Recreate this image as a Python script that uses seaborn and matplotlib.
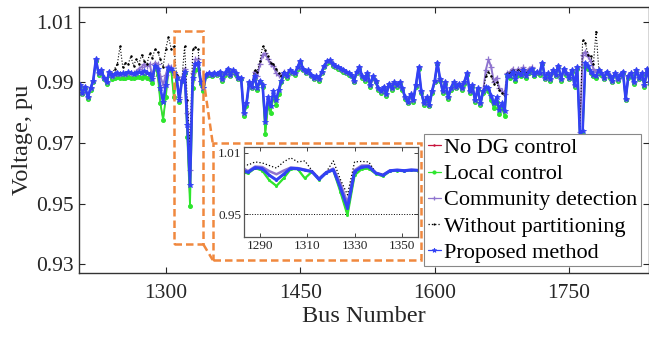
import numpy as np
import pandas as pd
import matplotlib
matplotlib.use("Agg")
import matplotlib.pyplot as plt
import seaborn as sns
from matplotlib.patches import Rectangle
from matplotlib.lines import Line2D

# ---------------- data ----------------
bus_numbers = np.arange(1204, 1841, 3)   # 213 buses shown

proposed_method = [
    0.9890, 0.9865, 0.9885, 0.9850, 0.9880, 0.9905, 0.9975, 0.9930, 0.9940, 0.9915,
    0.9900, 0.9935, 0.9920, 0.9928, 0.9932, 0.9926, 0.9930, 0.9927, 0.9933, 0.9930,
    0.9928, 0.9931, 0.9934, 0.9929, 0.9936, 0.9930, 0.9926, 0.9910, 0.9955, 0.9945,
    0.9880, 0.9834, 0.9890, 0.9948, 0.9945, 0.9930, 0.9915, 0.9840, 0.9905, 0.9935,
    0.9760, 0.9560, 0.9915, 0.9960, 0.9965, 0.9900, 0.9880, 0.9925, 0.9930, 0.9925,
    0.9932, 0.9928, 0.9935, 0.9910, 0.9930, 0.9945, 0.9925, 0.9940, 0.9930, 0.9915,
    0.9915, 0.9800, 0.9830, 0.9900, 0.9885, 0.9920, 0.9880, 0.9905, 0.9890, 0.9770,
    0.9850, 0.9820, 0.9870, 0.9840, 0.9875, 0.9905, 0.9930, 0.9920, 0.9940, 0.9935,
    0.9930, 0.9950, 0.9970, 0.9945, 0.9935, 0.9940, 0.9925, 0.9915, 0.9920, 0.9910,
    0.9935, 0.9955, 0.9970, 0.9972, 0.9960, 0.9955, 0.9950, 0.9945, 0.9940, 0.9935,
    0.9930, 0.9925, 0.9905, 0.9935, 0.9950, 0.9920, 0.9910, 0.9930, 0.9890, 0.9920,
    0.9905, 0.9880, 0.9870, 0.9885, 0.9860, 0.9895, 0.9880, 0.9900, 0.9890, 0.9900,
    0.9880, 0.9850, 0.9835, 0.9860, 0.9840, 0.9890, 0.9950, 0.9870, 0.9830, 0.9850,
    0.9825, 0.9870, 0.9905, 0.9965, 0.9910, 0.9870, 0.9900, 0.9850, 0.9880, 0.9900,
    0.9885, 0.9895, 0.9880, 0.9900, 0.9930, 0.9870, 0.9890, 0.9840, 0.9880, 0.9830,
    0.9870, 0.9885, 0.9880, 0.9855, 0.9830, 0.9850, 0.9810, 0.9830, 0.9805, 0.9925,
    0.9920, 0.9935, 0.9910, 0.9930, 0.9925, 0.9940, 0.9920, 0.9935, 0.9945, 0.9925,
    0.9935, 0.9930, 0.9965, 0.9915, 0.9930, 0.9910, 0.9940, 0.9925, 0.9955, 0.9910,
    0.9945, 0.9930, 0.9915, 0.9940, 0.9890, 0.9950, 0.9725, 0.9740, 0.9965, 0.9955,
    0.9935, 0.9925, 0.9920, 0.9940, 0.9930, 0.9915, 0.9935, 0.9920, 0.9905, 0.9930,
    0.9910, 0.9925, 0.9935, 0.9845, 0.9920, 0.9930, 0.9900, 0.9940, 0.9915, 0.9930,
    0.9890, 0.9945, 0.9900,
]

local_control = [
    0.9885, 0.9860, 0.9880, 0.9845, 0.9875, 0.9900, 0.9970, 0.9925, 0.9935, 0.9910,
    0.9895, 0.9925, 0.9912, 0.9915, 0.9918, 0.9913, 0.9915, 0.9914, 0.9918, 0.9915,
    0.9914, 0.9916, 0.9918, 0.9914, 0.9920, 0.9915, 0.9912, 0.9898, 0.9950, 0.9925,
    0.9830, 0.9776, 0.9850, 0.9940, 0.9940, 0.9850, 0.9915, 0.9835, 0.9905, 0.9930,
    0.9720, 0.9493, 0.9880, 0.9940, 0.9945, 0.9895, 0.9870, 0.9920, 0.9925, 0.9920,
    0.9927, 0.9923, 0.9930, 0.9905, 0.9925, 0.9940, 0.9920, 0.9935, 0.9925, 0.9910,
    0.9910, 0.9790, 0.9820, 0.9895, 0.9880, 0.9915, 0.9875, 0.9900, 0.9885, 0.9730,
    0.9820, 0.9800, 0.9850, 0.9825, 0.9860, 0.9900, 0.9925, 0.9915, 0.9935, 0.9930,
    0.9925, 0.9945, 0.9965, 0.9940, 0.9930, 0.9935, 0.9920, 0.9910, 0.9915, 0.9905,
    0.9930, 0.9950, 0.9965, 0.9967, 0.9955, 0.9950, 0.9945, 0.9940, 0.9935, 0.9930,
    0.9925, 0.9920, 0.9900, 0.9930, 0.9945, 0.9915, 0.9905, 0.9925, 0.9885, 0.9915,
    0.9900, 0.9875, 0.9865, 0.9880, 0.9855, 0.9890, 0.9875, 0.9895, 0.9885, 0.9895,
    0.9875, 0.9845, 0.9830, 0.9855, 0.9835, 0.9885, 0.9945, 0.9865, 0.9825, 0.9845,
    0.9820, 0.9865, 0.9900, 0.9960, 0.9905, 0.9865, 0.9895, 0.9845, 0.9875, 0.9895,
    0.9880, 0.9890, 0.9875, 0.9895, 0.9925, 0.9865, 0.9885, 0.9835, 0.9875, 0.9825,
    0.9865, 0.9880, 0.9870, 0.9840, 0.9815, 0.9835, 0.9795, 0.9815, 0.9790, 0.9920,
    0.9915, 0.9930, 0.9905, 0.9925, 0.9920, 0.9935, 0.9915, 0.9930, 0.9940, 0.9920,
    0.9930, 0.9925, 0.9960, 0.9910, 0.9925, 0.9905, 0.9935, 0.9920, 0.9950, 0.9905,
    0.9940, 0.9925, 0.9910, 0.9935, 0.9885, 0.9945, 0.9715, 0.9725, 0.9950, 0.9945,
    0.9930, 0.9920, 0.9915, 0.9935, 0.9925, 0.9910, 0.9930, 0.9915, 0.9900, 0.9925,
    0.9905, 0.9920, 0.9930, 0.9840, 0.9915, 0.9925, 0.9895, 0.9935, 0.9910, 0.9925,
    0.9885, 0.9940, 0.9895,
]

# the "No DG control" curve lies under the local-control curve
no_dg_control = list(local_control)

community_detection = [
    0.9890, 0.9865, 0.9885, 0.9850, 0.9880, 0.9905, 0.9975, 0.9930, 0.9940, 0.9915,
    0.9900, 0.9935, 0.9920, 0.9928, 0.9932, 0.9926, 0.9930, 0.9927, 0.9933, 0.9930,
    0.9930, 0.9935, 0.9945, 0.9950, 0.9960, 0.9955, 0.9960, 0.9920, 0.9965, 0.9960,
    0.9920, 0.9890, 0.9925, 0.9955, 0.9950, 0.9935, 0.9920, 0.9850, 0.9910, 0.9945,
    0.9800, 0.9610, 0.9930, 0.9975, 0.9975, 0.9905, 0.9885, 0.9927, 0.9932, 0.9927,
    0.9932, 0.9928, 0.9935, 0.9910, 0.9930, 0.9945, 0.9925, 0.9940, 0.9930, 0.9915,
    0.9915, 0.9800, 0.9830, 0.9900, 0.9885, 0.9935, 0.9920, 0.9960, 0.9990, 0.9995,
    0.9975, 0.9960, 0.9955, 0.9930, 0.9925, 0.9920, 0.9935, 0.9920, 0.9940, 0.9935,
    0.9930, 0.9950, 0.9970, 0.9945, 0.9935, 0.9940, 0.9925, 0.9915, 0.9920, 0.9910,
    0.9935, 0.9955, 0.9970, 0.9972, 0.9960, 0.9955, 0.9950, 0.9945, 0.9940, 0.9935,
    0.9930, 0.9925, 0.9905, 0.9935, 0.9950, 0.9920, 0.9910, 0.9930, 0.9890, 0.9920,
    0.9905, 0.9880, 0.9870, 0.9885, 0.9860, 0.9895, 0.9880, 0.9900, 0.9890, 0.9900,
    0.9880, 0.9850, 0.9835, 0.9860, 0.9840, 0.9890, 0.9950, 0.9870, 0.9830, 0.9850,
    0.9825, 0.9870, 0.9905, 0.9965, 0.9910, 0.9870, 0.9900, 0.9850, 0.9880, 0.9900,
    0.9885, 0.9895, 0.9880, 0.9900, 0.9930, 0.9870, 0.9890, 0.9840, 0.9880, 0.9830,
    0.9870, 0.9940, 0.9975, 0.9950, 0.9900, 0.9915, 0.9880, 0.9870, 0.9860, 0.9930,
    0.9935, 0.9945, 0.9930, 0.9945, 0.9940, 0.9950, 0.9935, 0.9945, 0.9950, 0.9930,
    0.9935, 0.9930, 0.9965, 0.9915, 0.9930, 0.9910, 0.9940, 0.9925, 0.9955, 0.9910,
    0.9945, 0.9930, 0.9915, 0.9940, 0.9890, 0.9950, 0.9735, 0.9990, 1.0000, 0.9985,
    0.9970, 0.9945, 0.9935, 0.9940, 0.9930, 0.9915, 0.9935, 0.9920, 0.9905, 0.9930,
    0.9910, 0.9925, 0.9935, 0.9845, 0.9920, 0.9930, 0.9900, 0.9940, 0.9915, 0.9930,
    0.9890, 0.9945, 0.9900,
]

without_partitioning = [
    0.9890, 0.9865, 0.9885, 0.9850, 0.9880, 0.9905, 0.9975, 0.9930, 0.9940, 0.9915,
    0.9900, 0.9935, 0.9925, 0.9945, 0.9960, 1.0020, 0.9950, 0.9965, 0.9960, 0.9985,
    0.9955, 0.9975, 0.9960, 0.9990, 0.9970, 0.9960, 0.9995, 0.9980, 1.0010, 1.0000,
    0.9975, 0.9950, 1.0010, 1.0050, 1.0010, 1.0020, 0.9925, 0.9850, 0.9910, 1.0020,
    0.9840, 0.9690, 1.0010, 1.0015, 1.0010, 0.9905, 0.9885, 0.9925, 0.9930, 0.9925,
    0.9932, 0.9928, 0.9935, 0.9910, 0.9930, 0.9945, 0.9925, 0.9940, 0.9930, 0.9915,
    0.9915, 0.9800, 0.9830, 0.9900, 0.9885, 0.9940, 0.9935, 0.9970, 1.0018, 1.0005,
    0.9985, 0.9965, 0.9960, 0.9945, 0.9930, 0.9920, 0.9935, 0.9920, 0.9940, 0.9935,
    0.9930, 0.9950, 0.9970, 0.9945, 0.9935, 0.9940, 0.9925, 0.9915, 0.9920, 0.9910,
    0.9935, 0.9955, 0.9970, 0.9972, 0.9960, 0.9955, 0.9950, 0.9945, 0.9940, 0.9935,
    0.9930, 0.9925, 0.9905, 0.9935, 0.9950, 0.9920, 0.9910, 0.9930, 0.9890, 0.9920,
    0.9905, 0.9880, 0.9870, 0.9885, 0.9860, 0.9895, 0.9880, 0.9900, 0.9890, 0.9900,
    0.9880, 0.9850, 0.9835, 0.9860, 0.9840, 0.9890, 0.9950, 0.9870, 0.9830, 0.9850,
    0.9825, 0.9870, 0.9905, 0.9965, 0.9910, 0.9870, 0.9900, 0.9850, 0.9880, 0.9900,
    0.9885, 0.9895, 0.9880, 0.9900, 0.9930, 0.9870, 0.9890, 0.9840, 0.9880, 0.9830,
    0.9870, 0.9920, 0.9935, 0.9920, 0.9895, 0.9900, 0.9875, 0.9865, 0.9855, 0.9930,
    0.9930, 0.9940, 0.9925, 0.9940, 0.9935, 0.9945, 0.9930, 0.9940, 0.9945, 0.9930,
    0.9935, 0.9930, 0.9965, 0.9915, 0.9930, 0.9910, 0.9940, 0.9925, 0.9955, 0.9910,
    0.9945, 0.9930, 0.9915, 0.9940, 0.9890, 0.9950, 0.9740, 1.0040, 1.0030, 0.9990,
    0.9985, 0.9960, 1.0067, 0.9945, 0.9930, 0.9915, 0.9935, 0.9920, 0.9905, 0.9930,
    0.9910, 0.9925, 0.9935, 0.9845, 0.9920, 0.9930, 0.9900, 0.9940, 0.9915, 0.9930,
    0.9890, 0.9945, 0.9900,
]

series_names = ["No DG control", "Local control", "Community detection",
                "Without partitioning", "Proposed method"]
series_values = [no_dg_control, local_control, community_detection,
                 without_partitioning, proposed_method]

x_ticks = [1300, 1450, 1600, 1750]
y_ticks = [0.93, 0.95, 0.97, 0.99, 1.01]
inset_x_ticks = [1290, 1310, 1330, 1350]
inset_y_ticks = [0.95, 1.01]

# ---------------- styling ----------------
sns.set_style("ticks")
plt.rcParams["font.family"] = ["Liberation Serif", "DejaVu Serif"]
text_col = "#262626"

colors = {
    "No DG control": "#c8143c",
    "Local control": "#2ee62e",
    "Community detection": "#8f74cf",
    "Without partitioning": "black",
    "Proposed method": "#3241f5",
}
styles = {
    "No DG control":        dict(linewidth=0.8, linestyle="-", marker=".", markersize=2.5),
    "Local control":        dict(linewidth=1.3, linestyle="-", marker="o", markersize=2.8),
    "Community detection":  dict(linewidth=1.4, linestyle="-", marker="+", markersize=4.0, markeredgewidth=0.9),
    "Without partitioning": dict(linewidth=0.8, linestyle=":", marker=".", markersize=2.0),
    "Proposed method":      dict(linewidth=1.9, linestyle="-", marker="*", markersize=4.2, markeredgewidth=0.6),
}
orange = "#f0883e"

df = pd.DataFrame({
    "bus": np.tile(bus_numbers, len(series_names)),
    "voltage": np.concatenate([np.asarray(v) for v in series_values]),
    "series": np.repeat(series_names, len(bus_numbers)),
})

W, H = 649, 337
fig = plt.figure(figsize=(W / 100, H / 100), dpi=100)
ax = fig.add_axes([79.3 / W, 1 - 273.3 / H, (648.5 - 79.3) / W, (273.3 - 6.7) / H])

for name in series_names:
    sub = df[df["series"] == name]
    c = colors[name]
    sns.lineplot(data=sub, x="bus", y="voltage", ax=ax, label=name,
                 errorbar=None, sort=False, color=c,
                 markeredgecolor=c, markerfacecolor=c, **styles[name])

ax.set_xlim(1203.5, 1838.5)
ax.set_ylim(0.927, 1.0149)
ax.set_xticks(x_ticks)
ax.set_yticks(y_ticks)
ax.set_yticklabels([f"{v:.2f}" for v in y_ticks])
ax.tick_params(direction="in", top=True, right=True, length=4, width=0.8,
               labelsize=15.5, colors=text_col, pad=4)
ax.tick_params(axis="x", pad=8)
ax.set_xlabel("Bus Number", fontsize=17.5, color=text_col, labelpad=2)
ax.set_ylabel("Voltage, pu", fontsize=17.5, color=text_col, labelpad=2)
for sp in ax.spines.values():
    sp.set_color("#333333")
    sp.set_linewidth(1.0)

# zoom box on main axes
ax.add_patch(Rectangle((1309.3, 0.9367), 32.7, 0.0703, fill=False,
                       edgecolor=orange, linewidth=1.8, linestyle=(0, (3, 1.6)), zorder=20))

# legend
leg = ax.legend(loc="lower right", bbox_to_anchor=(641 / W, 1 - 266 / H),
                bbox_transform=fig.transFigure, fontsize=16, frameon=True,
                fancybox=False, edgecolor="#888888", framealpha=1,
                handlelength=0.6, handletextpad=0.15, labelspacing=0.25,
                borderpad=0.15, borderaxespad=0, markerscale=0.8)
leg.get_frame().set_linewidth(0.8)
for t in leg.get_texts():
    t.set_color("black")
for h in leg.get_lines():
    h.set_linewidth(0.9)
leg.set_zorder(30)

# orange frame around the inset and connector lines (figure pixel coords)
def fx(px):
    return px / W

def fy(py):
    return 1 - py / H

fig.patches.append(Rectangle((fx(212.7), fy(260)), fx(420.7) - fx(212.7), fy(143) - fy(260),
                             transform=fig.transFigure, fill=True, facecolor="white",
                             edgecolor=orange, linewidth=1.8, linestyle=(0, (3, 1.6)), zorder=2))
fig.lines.append(Line2D([fx(203.3), fx(212.7)], [fy(78), fy(143)], transform=fig.transFigure,
                        color=orange, linewidth=1.8, linestyle=(0, (3, 1.6)), zorder=2))
fig.lines.append(Line2D([fx(203.3), fx(212.7)], [fy(244.3), fy(260)], transform=fig.transFigure,
                        color=orange, linewidth=1.8, linestyle=(0, (3, 1.6)), zorder=2))

# inset axes
axin = fig.add_axes([244.3 / W, 1 - 237 / H, (418 - 244.3) / W, (237 - 146.7) / H], zorder=5)
inset_styles = {
    "No DG control":        dict(linewidth=0.8, linestyle="-"),
    "Local control":        dict(linewidth=1.6, linestyle="-", marker="o", markersize=1.4),
    "Community detection":  dict(linewidth=1.8, linestyle="-"),
    "Without partitioning": dict(linewidth=0.9, linestyle=":"),
    "Proposed method":      dict(linewidth=2.2, linestyle="-", marker="o", markersize=1.4),
}
for name in series_names:
    sub = df[df["series"] == name]
    c = colors[name]
    sns.lineplot(data=sub, x="bus", y="voltage", ax=axin, legend=False,
                 errorbar=None, sort=False, color=c,
                 markeredgecolor=c, markerfacecolor=c, **inset_styles[name])
axin.axhline(0.95, color="black", linewidth=0.7, linestyle=":", zorder=0)
axin.set_xlim(1283.4, 1356.8)
axin.set_ylim(0.928, 1.0158)
axin.set_xticks(inset_x_ticks)
axin.set_yticks(inset_y_ticks)
axin.set_yticklabels([f"{v:.2f}" for v in inset_y_ticks])
axin.set_xlabel("")
axin.set_ylabel("")
axin.tick_params(direction="in", top=True, right=True, length=3, width=0.6,
                 labelsize=9.5, colors=text_col, pad=2)
for sp in axin.spines.values():
    sp.set_color("#555555")
    sp.set_linewidth(0.9)

fig.savefig("out.png", dpi=100)
